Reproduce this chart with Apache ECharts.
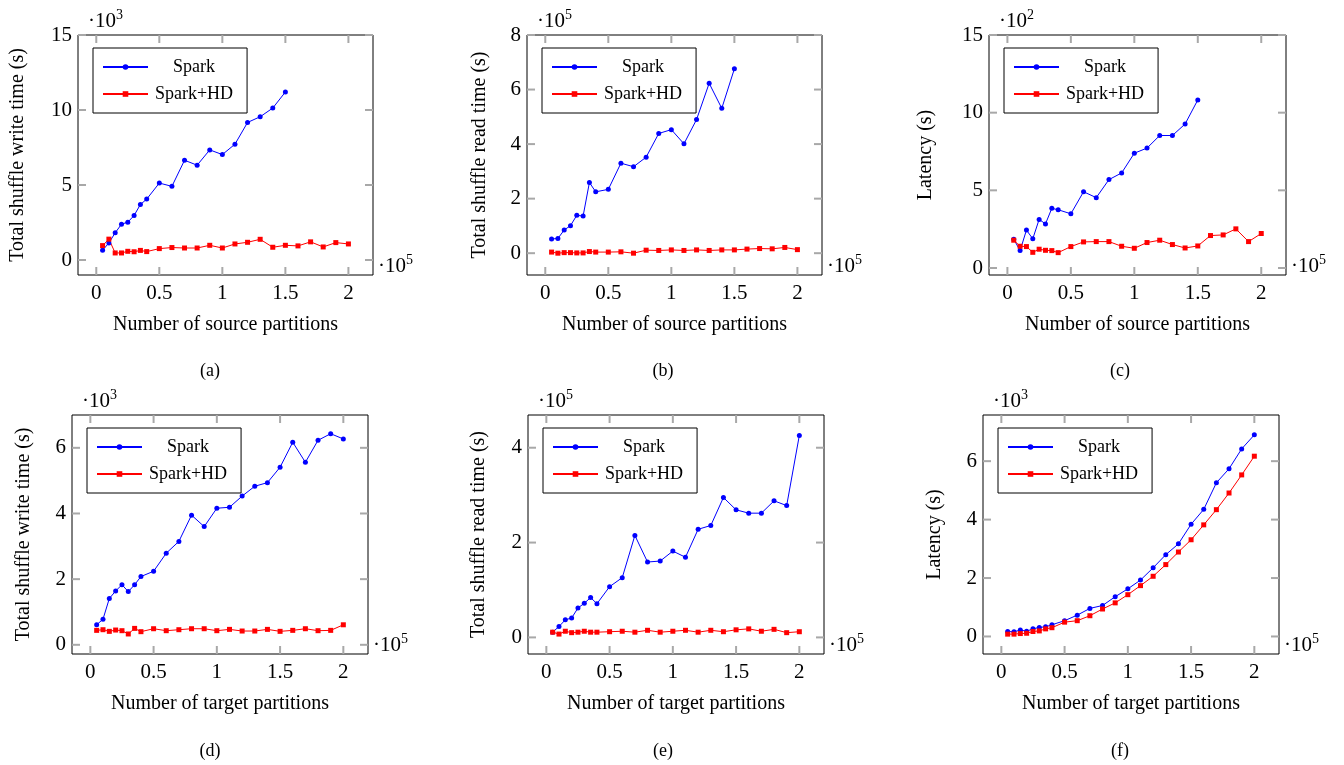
<!DOCTYPE html>
<html>
<head>
<meta charset="utf-8">
<script src="https://cdn.jsdelivr.net/npm/echarts@6/dist/echarts.min.js"></script>
<style>
  html, body { margin: 0; background: #fff; }
  #chart { width: 1344px; height: 765px; }
</style>
</head>
<body>
<div id="chart"></div>
<script>
// x values, in units of 10^5 partitions
const xSource = [0.05, 0.1, 0.15, 0.2, 0.25, 0.3, 0.35, 0.4, 0.5, 0.6, 0.7, 0.8, 0.9, 1.0, 1.1, 1.2, 1.3, 1.4, 1.5];
const xAll = [0.05, 0.1, 0.15, 0.2, 0.25, 0.3, 0.35, 0.4, 0.5, 0.6, 0.7, 0.8, 0.9, 1.0, 1.1, 1.2, 1.3, 1.4, 1.5, 1.6, 1.7, 1.8, 1.9, 2.0];
const xTicks = [0, 0.5, 1, 1.5, 2];

// (a) shuffle write time vs source partitions, x10^3 s
const writeSrcSpark = [0.65, 1.14, 1.81, 2.39, 2.52, 2.97, 3.7, 4.06, 5.13, 4.91, 6.65, 6.32, 7.34, 7.03, 7.72, 9.17, 9.55, 10.13, 11.2];
const writeSrcHD = [0.96, 1.39, 0.47, 0.47, 0.58, 0.55, 0.64, 0.56, 0.76, 0.83, 0.8, 0.8, 0.98, 0.8, 1.07, 1.18, 1.38, 0.85, 0.98, 0.94, 1.21, 0.87, 1.16, 1.07];
// (b) shuffle read time vs source partitions, x10^5 s
const readSrcSpark = [0.52, 0.54, 0.85, 1.01, 1.39, 1.36, 2.59, 2.25, 2.34, 3.3, 3.17, 3.52, 4.39, 4.53, 4.01, 4.9, 6.23, 5.31, 6.76];
const readSrcHD = [0.04, 0.0, 0.02, 0.02, 0.01, 0.01, 0.06, 0.04, 0.04, 0.05, 0.0, 0.11, 0.1, 0.12, 0.1, 0.12, 0.1, 0.12, 0.12, 0.15, 0.17, 0.16, 0.21, 0.13];
// (c) latency vs source partitions, x10^2 s
const latSrcSpark = [1.85, 1.12, 2.44, 1.88, 3.13, 2.84, 3.84, 3.75, 3.49, 4.91, 4.53, 5.69, 6.12, 7.39, 7.72, 8.53, 8.53, 9.27, 10.82];
const latSrcHD = [1.79, 1.4, 1.38, 1.01, 1.21, 1.14, 1.12, 0.99, 1.38, 1.68, 1.7, 1.7, 1.4, 1.27, 1.64, 1.79, 1.51, 1.29, 1.42, 2.09, 2.13, 2.52, 1.7, 2.22];
// (d) shuffle write time vs target partitions, x10^3 s
const writeTgtSpark = [0.61, 0.78, 1.41, 1.64, 1.83, 1.62, 1.83, 2.08, 2.24, 2.79, 3.15, 3.95, 3.6, 4.16, 4.19, 4.53, 4.83, 4.94, 5.41, 6.17, 5.56, 6.23, 6.43, 6.27];
const writeTgtHD = [0.44, 0.46, 0.41, 0.45, 0.43, 0.33, 0.5, 0.4, 0.49, 0.43, 0.46, 0.49, 0.49, 0.43, 0.47, 0.42, 0.42, 0.47, 0.41, 0.44, 0.49, 0.43, 0.44, 0.61];
// (e) shuffle read time vs target partitions, x10^5 s
const readTgtSpark = [0.11, 0.23, 0.37, 0.41, 0.62, 0.72, 0.84, 0.71, 1.07, 1.26, 2.15, 1.59, 1.61, 1.82, 1.69, 2.28, 2.36, 2.95, 2.69, 2.62, 2.62, 2.88, 2.78, 4.26];
const readTgtHD = [0.11, 0.07, 0.13, 0.1, 0.11, 0.13, 0.11, 0.11, 0.12, 0.13, 0.11, 0.15, 0.11, 0.13, 0.15, 0.11, 0.15, 0.12, 0.16, 0.18, 0.13, 0.17, 0.1, 0.12];
// (f) latency vs target partitions, x10^3 s
const latTgtSpark = [0.17, 0.16, 0.22, 0.18, 0.26, 0.31, 0.33, 0.4, 0.54, 0.73, 0.96, 1.06, 1.36, 1.63, 1.93, 2.35, 2.8, 3.17, 3.84, 4.35, 5.26, 5.74, 6.42, 6.9];
const latTgtHD = [0.08, 0.08, 0.1, 0.11, 0.17, 0.19, 0.26, 0.3, 0.49, 0.54, 0.71, 0.94, 1.15, 1.43, 1.74, 2.06, 2.46, 2.89, 3.31, 3.82, 4.34, 4.91, 5.53, 6.17];

const FONT = 'Liberation Serif';
const BLUE = '#0000ff';
const RED = '#ff0000';
const TICK_GRAY = '#a8a8a8';
const TICK_LEN = 8;

const panels = [
  { grid: { left: 78, top: 35, width: 295, height: 240 }, ymin: -1.0, ymax: 15, yTicks: [0, 5, 10, 15], yName: 'Total shuffle write time (s)', yGap: 50, xName: 'Number of source partitions', exp: '3', cap: '(a)', capX: 210, xs: xSource, spark: writeSrcSpark, hd: writeSrcHD },
  { grid: { left: 527, top: 35, width: 295, height: 240 }, ymin: -0.8, ymax: 8, yTicks: [0, 2, 4, 6, 8], yName: 'Total shuffle read time (s)', yGap: 37, xName: 'Number of source partitions', exp: '5', cap: '(b)', capX: 663, xs: xSource, spark: readSrcSpark, hd: readSrcHD },
  { grid: { left: 989, top: 35, width: 297, height: 240 }, ymin: -0.45, ymax: 15, yTicks: [0, 5, 10, 15], yName: 'Latency (s)', yGap: 53, xName: 'Number of source partitions', exp: '2', cap: '(c)', capX: 1120, xs: xSource, spark: latSrcSpark, hd: latSrcHD },
  { grid: { left: 72, top: 415, width: 296, height: 239 }, ymin: -0.28, ymax: 7.0, yTicks: [0, 2, 4, 6], yName: 'Total shuffle write time (s)', yGap: 38, xName: 'Number of target partitions', exp: '3', cap: '(d)', capX: 210, xs: xAll, spark: writeTgtSpark, hd: writeTgtHD },
  { grid: { left: 528, top: 415, width: 296, height: 239 }, ymin: -0.35, ymax: 4.69, yTicks: [0, 2, 4], yName: 'Total shuffle read time (s)', yGap: 39, xName: 'Number of target partitions', exp: '5', cap: '(e)', capX: 663, xs: xAll, spark: readTgtSpark, hd: readTgtHD },
  { grid: { left: 983, top: 415, width: 296, height: 239 }, ymin: -0.6, ymax: 7.58, yTicks: [0, 2, 4, 6], yName: 'Latency (s)', yGap: 38, xName: 'Number of target partitions', exp: '3', cap: '(f)', capX: 1120, xs: xAll, spark: latTgtSpark, hd: latTgtHD }
];

const zip = (xs, ys) => ys.map((y, i) => [xs[i], y]);

// pgfplots-style tick marks on all four sides, placed through the axis scales
const tickLine = (x1, y1, x2, y2) => ({
  type: 'line', shape: { x1, y1, x2, y2 }, style: { stroke: TICK_GRAY, lineWidth: 2 }
});
const renderTicks = (params, api) => {
  const cs = params.coordSys;
  const kind = api.value(2);
  if (kind === 0) {
    const px = api.coord([api.value(0), 0])[0];
    return { type: 'group', children: [
      tickLine(px, cs.y + cs.height, px, cs.y + cs.height - TICK_LEN),
      tickLine(px, cs.y, px, cs.y + TICK_LEN)
    ] };
  }
  const py = api.coord([0, api.value(1)])[1];
  return { type: 'group', children: [
    tickLine(cs.x, py, cs.x + TICK_LEN, py),
    tickLine(cs.x + cs.width, py, cs.x + cs.width - TICK_LEN, py)
  ] };
};

const grid = [], xAxis = [], yAxis = [], series = [], legend = [], graphic = [];

panels.forEach((p, i) => {
  const g = p.grid;
  grid.push({ left: g.left, top: g.top, width: g.width, height: g.height, show: true, borderColor: '#000', borderWidth: 1 });

  xAxis.push({
    type: 'value', gridIndex: i, position: 'bottom', min: -0.145, max: 2.195,
    axisLine: { show: false, onZero: false }, splitLine: { show: false }, axisTick: { show: false },
    axisLabel: { customValues: xTicks, margin: 8, fontFamily: FONT, fontSize: 21, color: '#000' },
    name: p.xName, nameLocation: 'middle', nameGap: 40,
    nameTextStyle: { fontFamily: FONT, fontSize: 20, color: '#000' }
  });
  yAxis.push({
    type: 'value', gridIndex: i, position: 'left', min: p.ymin, max: p.ymax,
    axisLine: { show: false, onZero: false }, splitLine: { show: false }, axisTick: { show: false },
    axisLabel: { customValues: p.yTicks, margin: 6, fontFamily: FONT, fontSize: 21, color: '#000' },
    name: p.yName, nameLocation: 'middle', nameGap: p.yGap, nameRotate: 90,
    nameTextStyle: { fontFamily: FONT, fontSize: 20, color: '#000' }
  });

  series.push({
    type: 'custom', xAxisIndex: i, yAxisIndex: i, silent: true, z: 1,
    renderItem: renderTicks,
    data: xTicks.map(v => [v, 0, 0]).concat(p.yTicks.map(v => [0, v, 1]))
  });
  series.push({
    name: 'Spark', type: 'line', xAxisIndex: i, yAxisIndex: i,
    data: zip(p.xs, p.spark), symbol: 'circle', symbolSize: 5,
    itemStyle: { color: BLUE }, lineStyle: { color: BLUE, width: 1 }
  });
  series.push({
    name: 'Spark+HD', type: 'line', xAxisIndex: i, yAxisIndex: i,
    data: zip(xAll, p.hd), symbol: 'rect', symbolSize: 5,
    itemStyle: { color: RED }, lineStyle: { color: RED, width: 1 }
  });

  legend.push({
    orient: 'vertical', left: g.left + 15, top: g.top + 13,
    data: ['Spark', 'Spark+HD'], selectedMode: false,
    itemWidth: 45, itemHeight: 7, itemGap: 9, padding: [10, 14, 10, 9],
    borderColor: '#000', borderWidth: 1, backgroundColor: '#fff',
    formatter: n => '{c|' + n + '}',
    textStyle: { fontFamily: FONT, fontSize: 18, color: '#000',
      rich: { c: { width: 82, align: 'center', fontFamily: FONT, fontSize: 18, color: '#000' } } }
  });

  const expRich = { a: { fontFamily: FONT, fontSize: 21, color: '#000' }, b: { fontFamily: FONT, fontSize: 14, color: '#000', padding: [0, 0, 12, 0] } };
  graphic.push({
    type: 'text', x: g.left + 10, y: g.top - 14,
    style: { text: '{a|·10}{b|' + p.exp + '}', rich: expRich, verticalAlign: 'middle', align: 'left' }
  });
  graphic.push({
    type: 'text', x: g.left + g.width + 5, y: g.top + g.height - 9,
    style: { text: '{a|·10}{b|5}', rich: expRich, verticalAlign: 'middle', align: 'left' }
  });
  graphic.push({
    type: 'text', x: p.capX, y: g.top + 336,
    style: { text: p.cap, fontFamily: FONT, fontSize: 18, fill: '#000', align: 'center', verticalAlign: 'middle' }
  });
});

const chart = echarts.init(document.getElementById('chart'));
chart.setOption({
  animation: false,
  backgroundColor: '#fff',
  grid, xAxis, yAxis, series, legend, graphic
});
</script>
</body>
</html>
